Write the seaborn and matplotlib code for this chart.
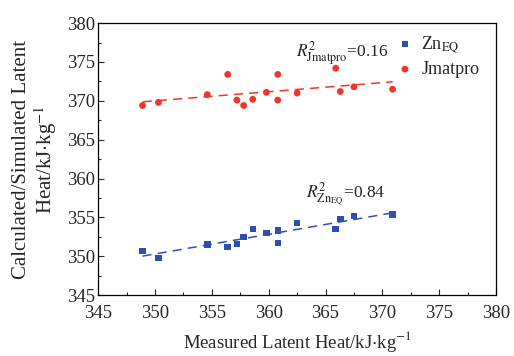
import numpy as np
import pandas as pd
import matplotlib
matplotlib.use("Agg")
import matplotlib.pyplot as plt
import seaborn as sns
from matplotlib.ticker import MultipleLocator

measured = [348.9, 350.3, 354.6, 356.4, 357.2, 357.8, 358.6, 359.8, 360.8, 360.8,
            362.5, 365.9, 366.3, 367.5, 370.9]
zn_eq = [350.7, 349.8, 351.5, 351.2, 351.6, 352.5, 353.5, 353.0, 353.3, 351.7,
         354.3, 353.5, 354.8, 355.2, 355.4]
jmatpro = [369.4, 369.8, 370.8, 373.4, 370.1, 369.4, 370.2, 371.1, 373.4, 370.1,
           371.0, 374.2, 371.2, 371.8, 371.5]

df = pd.DataFrame({"measured": measured, "zn": zn_eq, "jm": jmatpro})

sns.set_theme(style="ticks")
plt.rcParams['font.family'] = ['Liberation Serif', 'DejaVu Serif']
plt.rcParams['mathtext.fontset'] = 'stix'

blue = '#2d4fb0'
red = '#f2352a'

fig, ax = plt.subplots(figsize=(5.14, 3.56), dpi=100)
fig.subplots_adjust(left=0.191, right=0.965, top=0.935, bottom=0.171)

sns.regplot(data=df, x="measured", y="zn", ax=ax, scatter=False, ci=None,
            line_kws=dict(color=blue, ls=(0, (6, 4)), lw=1.1))
sns.regplot(data=df, x="measured", y="jm", ax=ax, scatter=False, ci=None,
            line_kws=dict(color=red, ls=(0, (6, 4)), lw=1.1))
sns.scatterplot(data=df, x="measured", y="zn", ax=ax, marker='s', s=22,
                color=blue, edgecolor='none', label=r'Zn$_{\mathrm{EQ}}$')
sns.scatterplot(data=df, x="measured", y="jm", ax=ax, marker='o', s=24,
                color=red, edgecolor='none', label='Jmatpro')

ax.set_xlim(345, 380)
ax.set_ylim(345, 380)
ax.xaxis.set_major_locator(MultipleLocator(5))
ax.yaxis.set_major_locator(MultipleLocator(5))
ax.xaxis.set_minor_locator(MultipleLocator(2.5))
ax.yaxis.set_minor_locator(MultipleLocator(2.5))
ax.tick_params(which='both', direction='in', labelsize=13.5, width=0.8)
ax.tick_params(which='major', length=4)
ax.tick_params(axis='y', which='major', pad=2)
ax.tick_params(axis='x', which='major', pad=7)
ax.tick_params(which='minor', length=2)
for sp in ax.spines.values():
    sp.set_visible(True)
    sp.set_linewidth(0.9)
    sp.set_color('black')

ax.set_xlabel(r'Measured Latent Heat/kJ$\cdot$kg$^{-1}$', fontsize=13.5, labelpad=5)
ax.set_ylabel('Calculated/Simulated Latent\n' + r'Heat/kJ$\cdot$kg$^{-1}$',
              fontsize=15, labelpad=6, linespacing=1.05)

ax.text(362.4, 375.6, r'$R^2_{\mathrm{Jmatpro}}$=0.16', fontsize=12.5)
ax.text(363.3, 357.4, r'$R^2_{\mathrm{Zn_{EQ}}}$=0.84', fontsize=12.5)

ax.legend(loc='upper right', bbox_to_anchor=(0.985, 1.0), frameon=False,
          fontsize=13, handletextpad=0.3, handlelength=1.2, borderaxespad=0.2,
          labelspacing=0.35)

fig.savefig('out.png', dpi=100)
